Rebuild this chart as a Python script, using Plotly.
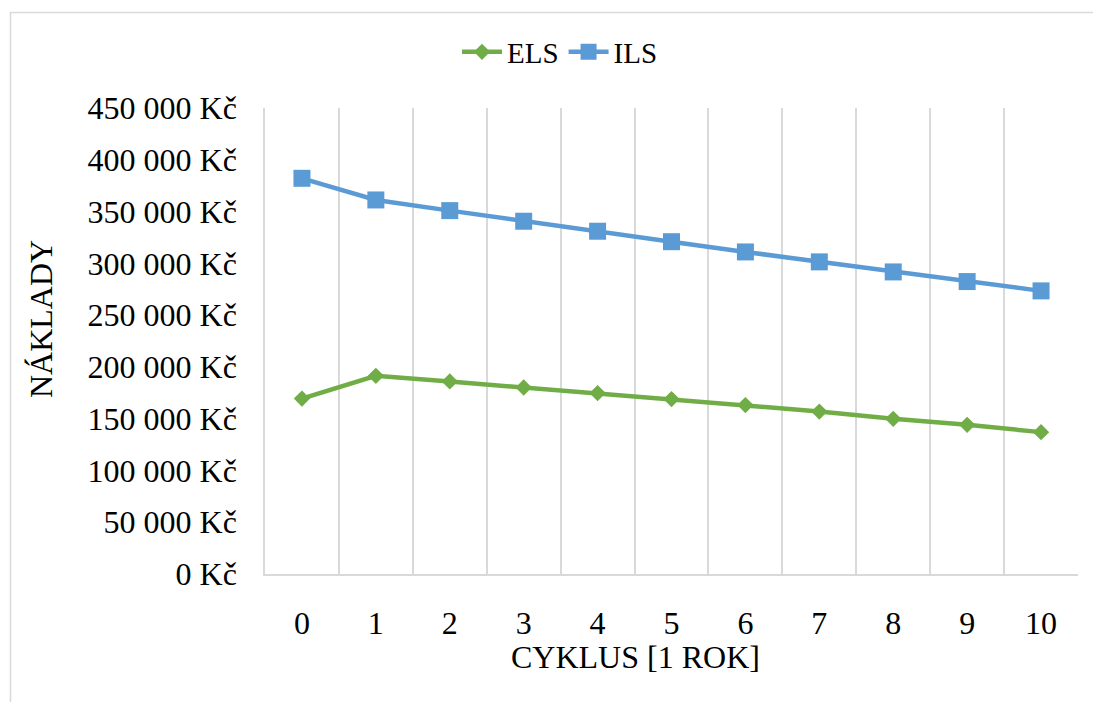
import plotly.graph_objects as go

cycles = [0, 1, 2, 3, 4, 5, 6, 7, 8, 9, 10]
els = [169450, 191400, 185900, 180100, 174700, 168900, 163100, 156900, 149900, 144100, 137000]
ils = [382100, 361200, 350900, 340650, 331000, 320900, 311000, 301400, 291700, 282400, 273400]
y_ticks = [0, 50000, 100000, 150000, 200000, 250000, 300000, 350000, 400000, 450000]
y_ticktext = ["0 Kč", "50 000 Kč", "100 000 Kč", "150 000 Kč", "200 000 Kč", "250 000 Kč",
              "300 000 Kč", "350 000 Kč", "400 000 Kč", "450 000 Kč"]

FONT = "Liberation Serif, Times New Roman, serif"
W, H = 1093, 702
L, R, T, B = 265, 15, 108, 128
pw, ph = W - L - R, H - T - B

def px(x):
    return (x - L) / pw

def py(y):
    return (H - B - y) / ph

fig = go.Figure()
fig.add_trace(go.Scatter(x=cycles, y=els, name="ELS", mode="lines+markers",
                         line=dict(color="#70AD47", width=4.5),
                         marker=dict(symbol="diamond", size=12.5, color="#70AD47")))
fig.add_trace(go.Scatter(x=cycles, y=ils, name="ILS", mode="lines+markers",
                         line=dict(color="#5B9BD5", width=4.5),
                         marker=dict(symbol="square", size=17, color="#5B9BD5")))

fig.update_layout(
    width=W, height=H,
    margin=dict(l=L, r=R, t=T, b=B),
    paper_bgcolor="white", plot_bgcolor="white",
    font=dict(family=FONT, size=32, color="black"),
    showlegend=True,
    legend=dict(orientation="h", x=px(560), xanchor="center", y=py(52), yanchor="middle",
                font=dict(size=29), itemwidth=40, tracegroupgap=0),
    xaxis=dict(range=[-0.5, 10.5], tickmode="array", tickvals=cycles,
               ticktext=[str(c) for c in cycles], showgrid=False, zeroline=False,
               showline=True, linecolor="#d9d9d9", linewidth=1.5, ticks="",
               ticklabelstandoff=20,
               minor=dict(tick0=0.5, dtick=1, showgrid=True, gridcolor="#d9d9d9", gridwidth=1.5)),
    yaxis=dict(range=[0, 450000], tickmode="array", tickvals=y_ticks, ticktext=y_ticktext,
               showgrid=False, zeroline=False, showline=True, linecolor="#d9d9d9", linewidth=1.5,
               ticks="", ticklabelstandoff=20),
    annotations=[
        dict(text="NÁKLADY", xref="paper", yref="paper", x=px(41), y=py(319), textangle=-90,
             showarrow=False, xanchor="center", yanchor="middle", font=dict(size=32)),
        dict(text="CYKLUS [1 ROK]", xref="paper", yref="paper", x=px(635), y=py(657),
             showarrow=False, xanchor="center", yanchor="middle", font=dict(size=32)),
    ],
    shapes=[
        dict(type="rect", xref="paper", yref="paper", x0=px(10.5), x1=px(1110), y0=py(720), y1=py(12.5),
             line=dict(color="#d9d9d9", width=1.5), layer="below"),
    ],
)

fig.write_html("out.html")
